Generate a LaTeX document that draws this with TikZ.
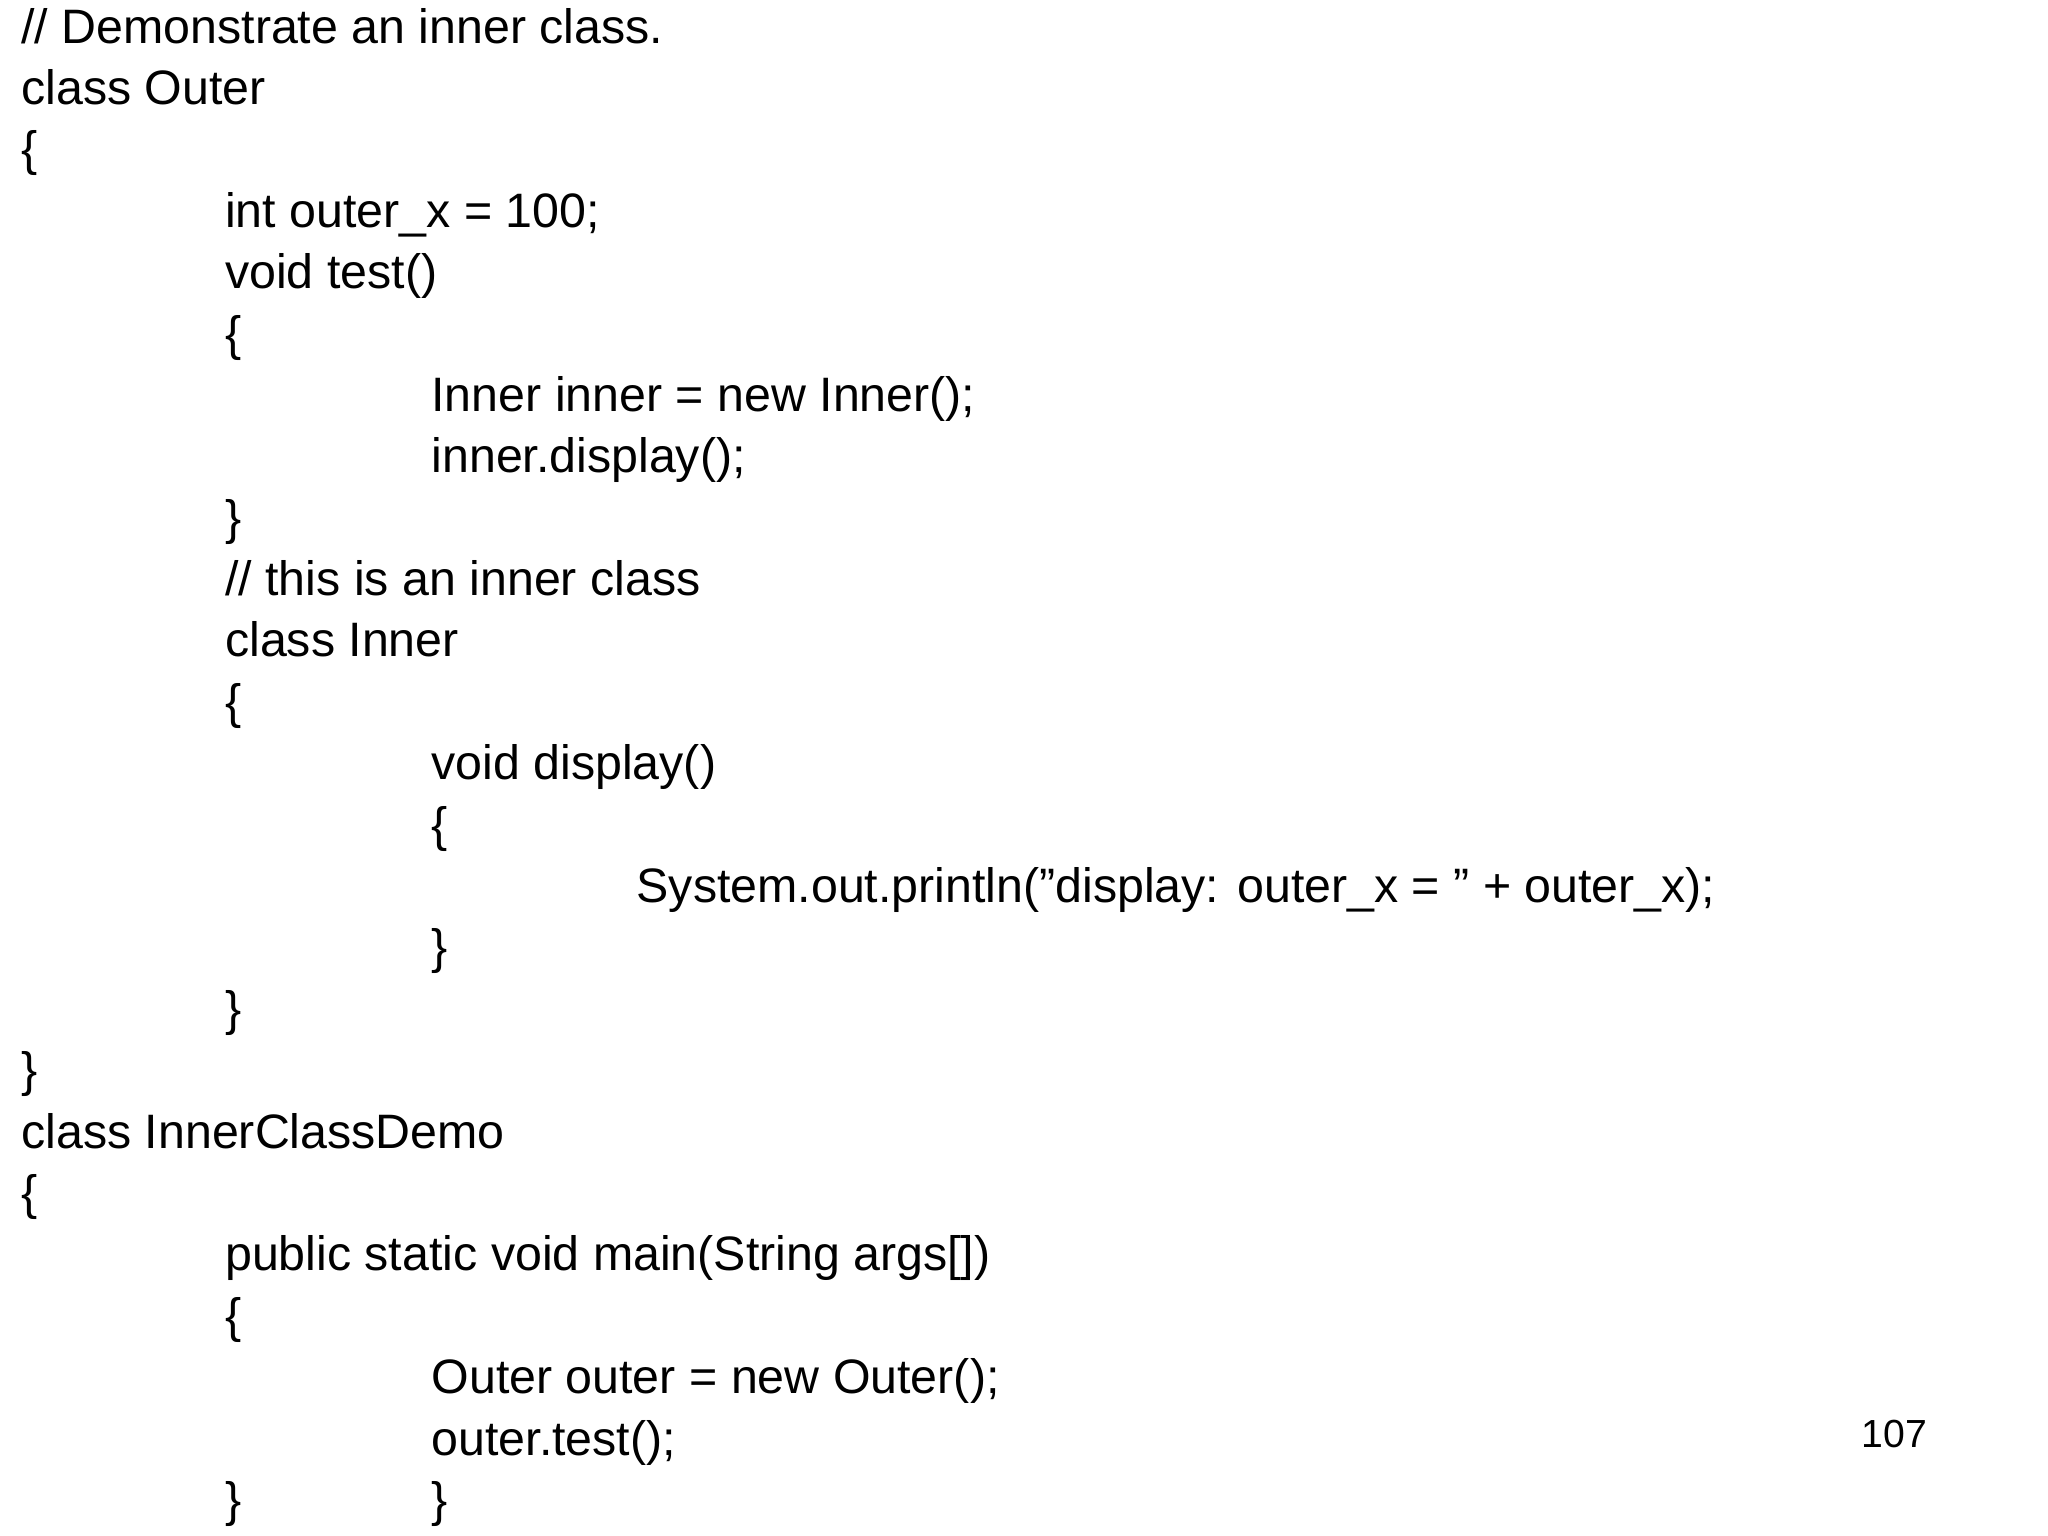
\documentclass[tikz,border=0pt]{standalone}
\usepackage{fontspec}
\setmainfont{Liberation Sans}
\begin{document}
\begin{tikzpicture}[x=0.5pt,y=-0.5pt,
  code/.style={anchor=base west,inner sep=0pt,font=\fontsize{18.5}{22}\selectfont}]
\useasboundingbox (0,0) rectangle (1568,1176);
\node[code] (l1) at (16,33) {// Demonstrate an inner class.};
\node[code] (l2) at (16,80) {class Outer};
\node[code] (l3) at (16,127) {\{};
\node[code] (l4) at (172,174) {int outer\_x = 100;};
\node[code] (l5) at (172,221) {void test()};
\node[code] (l6) at (172,268) {\{};
\node[code] (l7) at (330,315) {Inner inner = new Inner();};
\node[code] (l8) at (330,362) {inner.display();};
\node[code] (l9) at (172,409) {\}};
\node[code] (l10) at (172,456) {// this is an inner class};
\node[code] (l11) at (172,503) {class Inner};
\node[code] (l12) at (172,550) {\{};
\node[code] (l13) at (330,597) {void display()};
\node[code] (l14) at (330,644) {\{};
\node[code] (l15) at (487,691) {System.out.println("display: outer\_x = " + outer\_x);};
\node[code] (l16) at (330,738) {\}};
\node[code] (l17) at (172,785) {\}};
\node[code] (l18) at (16,832) {\}};
\node[code] (l19) at (16,879) {class InnerClassDemo};
\node[code] (l20) at (16,926) {\{};
\node[code] (l21) at (172,973) {public static void main(String args[])};
\node[code] (l22) at (172,1020) {\{};
\node[code] (l23) at (330,1067) {Outer outer = new Outer();};
\node[code] (l24) at (330,1114) {outer.test();};
\node[code] (l25) at (172,1161) {\}};
\node[code] (l26) at (330,1161) {\}};
\node[code,font=\fontsize{15}{18}\selectfont] (pg) at (1425,1108) {107};
\end{tikzpicture}
\end{document}
